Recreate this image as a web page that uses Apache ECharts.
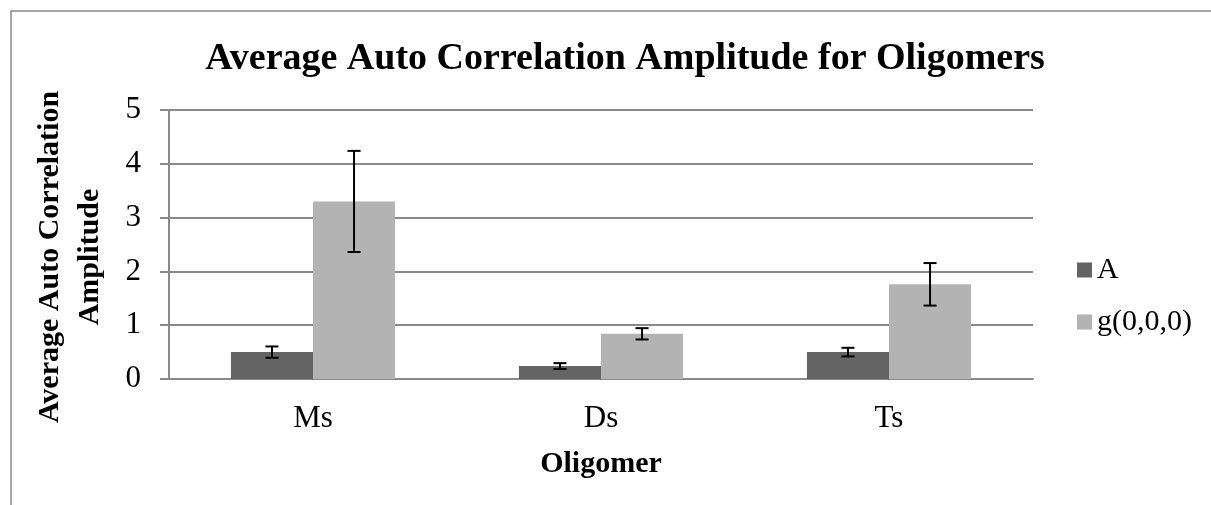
<!DOCTYPE html>
<html>
<head>
<meta charset="utf-8">
<title>Average Auto Correlation Amplitude for Oligomers</title>
<script src="https://cdn.jsdelivr.net/npm/echarts@6/dist/echarts.min.js"></script>
<style>
  html, body { margin: 0; padding: 0; background: #ffffff; }
  #chart { width: 1211px; height: 505px; }
</style>
</head>
<body>
<div id="chart"></div>
<script>
// Oligomer states on the category axis
const categories = ['Ms', 'Ds', 'Ts'];
// Series names
const seriesNames = ['A', 'g(0,0,0)'];
// Mean values per oligomer
const valuesA = [0.50, 0.24, 0.50];
const valuesG = [3.30, 0.84, 1.76];
// Symmetric error (± value) per oligomer
const errorsA = [0.105, 0.055, 0.08];
const errorsG = [0.94, 0.105, 0.395];
// Value axis ticks
const yTicks = [0, 1, 2, 3, 4, 5];

const FONT = "'Liberation Serif', 'Times New Roman', serif";
const GRID_COLOR = '#8a8a8a';
const CATEGORY_GAP = 0.43;

function errorData(values, errors) {
  return values.map((v, i) => [i, v - errors[i], v + errors[i]]);
}

// Whisker drawn at the centre of one bar within its category band
function makeErrorRenderer(side) {
  return function (params, api) {
    const idx = api.value(0);
    const lo = api.coord([idx, api.value(1)]);
    const hi = api.coord([idx, api.value(2)]);
    const band = api.size([1, 0])[0];
    const barW = band * (1 - CATEGORY_GAP) / 2;
    const x = lo[0] + side * barW / 2;
    const cap = 6.5;
    const style = { stroke: '#000000', lineWidth: 2 };
    return {
      type: 'group',
      children: [
        { type: 'line', shape: { x1: x, y1: hi[1], x2: x, y2: lo[1] }, style: style },
        { type: 'line', shape: { x1: x - cap, y1: hi[1], x2: x + cap, y2: hi[1] }, style: style },
        { type: 'line', shape: { x1: x - cap, y1: lo[1], x2: x + cap, y2: lo[1] }, style: style }
      ]
    };
  };
}

const chart = echarts.init(document.getElementById('chart'), null, { renderer: 'canvas' });

chart.setOption({
  backgroundColor: '#ffffff',
  animation: false,
  textStyle: { fontFamily: FONT, color: '#000000' },
  title: {
    text: 'Average Auto Correlation Amplitude for Oligomers',
    left: 620,
    textAlign: 'center',
    top: 35,
    textStyle: { fontFamily: FONT, fontSize: 38, fontWeight: 'bold', color: '#000000' }
  },
  legend: {
    orient: 'vertical',
    left: 1072,
    top: 250,
    itemWidth: 15,
    itemHeight: 15,
    itemGap: 22,
    icon: 'rect',
    data: seriesNames,
    textStyle: { fontFamily: FONT, fontSize: 30, color: '#000000' }
  },
  grid: { left: 169, right: 178, top: 110, bottom: 126, containLabel: false },
  xAxis: {
    type: 'category',
    data: categories,
    name: 'Oligomer',
    nameLocation: 'middle',
    nameGap: 70,
    nameTextStyle: { fontFamily: FONT, fontSize: 30, fontWeight: 'bold', color: '#000000' },
    axisLine: { lineStyle: { color: GRID_COLOR, width: 2 } },
    axisTick: { show: false },
    axisLabel: { margin: 24, fontFamily: FONT, fontSize: 31, color: '#000000' }
  },
  yAxis: {
    type: 'value',
    min: yTicks[0],
    max: yTicks[yTicks.length - 1],
    interval: 1,
    axisLine: { show: true, lineStyle: { color: GRID_COLOR, width: 2 } },
    axisTick: { show: true, length: 9, lineStyle: { color: GRID_COLOR, width: 2 } },
    splitLine: { lineStyle: { color: GRID_COLOR, width: 2 } },
    axisLabel: { margin: 28, fontFamily: FONT, fontSize: 31, color: '#000000' }
  },
  graphic: [
    {
      type: 'rect',
      shape: { x: 11, y: 11, width: 1400, height: 700 },
      style: { fill: 'none', stroke: '#8a8a8a', lineWidth: 1.5 },
      silent: true
    },
    {
      type: 'text',
      x: 70,
      y: 257,
      rotation: Math.PI / 2,
      style: {
        text: 'Average Auto Correlation\nAmplitude',
        fontFamily: FONT,
        fontSize: 30,
        fontWeight: 'bold',
        lineHeight: 40,
        fill: '#000000',
        align: 'center',
        verticalAlign: 'middle'
      }
    }
  ],
  series: [
    {
      name: seriesNames[0],
      type: 'bar',
      data: valuesA,
      barGap: '0%',
      barCategoryGap: (CATEGORY_GAP * 100) + '%',
      itemStyle: { color: '#646464' }
    },
    {
      name: seriesNames[1],
      type: 'bar',
      data: valuesG,
      barGap: '0%',
      barCategoryGap: (CATEGORY_GAP * 100) + '%',
      itemStyle: { color: '#b3b3b3' }
    },
    {
      name: 'errA',
      type: 'custom',
      renderItem: makeErrorRenderer(-1),
      data: errorData(valuesA, errorsA),
      encode: { x: 0, y: [1, 2] },
      z: 5
    },
    {
      name: 'errG',
      type: 'custom',
      renderItem: makeErrorRenderer(1),
      data: errorData(valuesG, errorsG),
      encode: { x: 0, y: [1, 2] },
      z: 5
    }
  ]
});
</script>
</body>
</html>
